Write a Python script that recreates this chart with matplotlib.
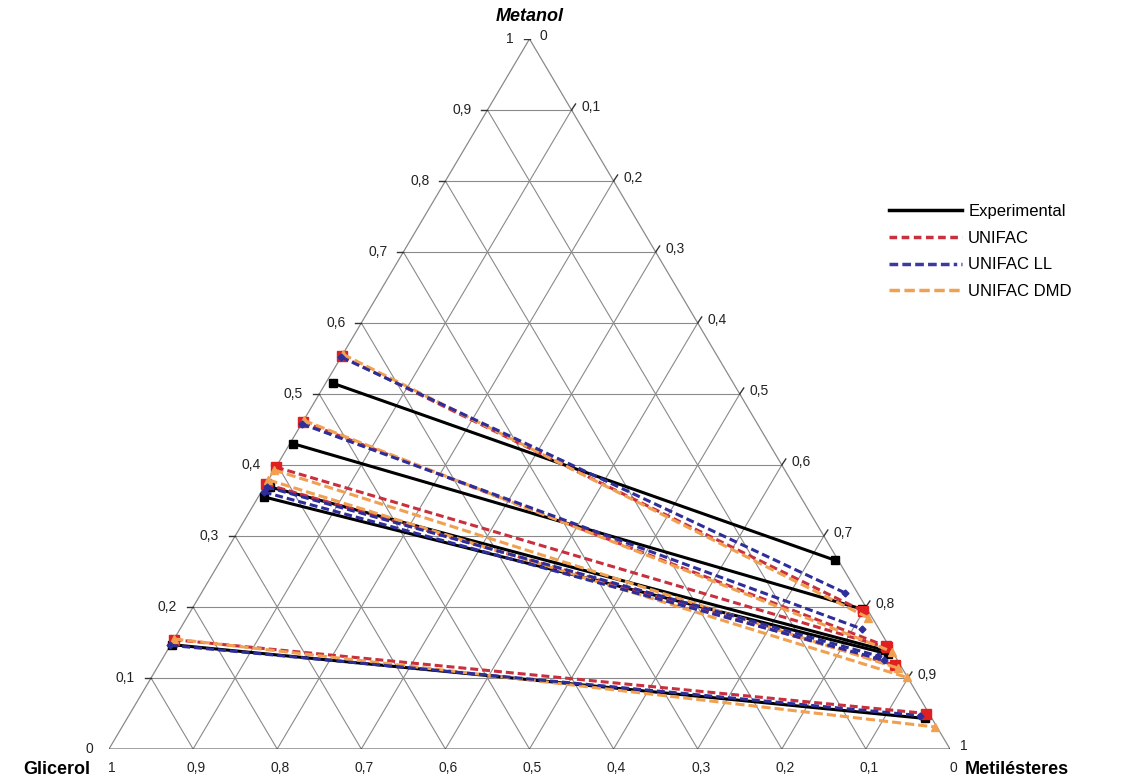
import numpy as np
import matplotlib.pyplot as plt
from matplotlib.lines import Line2D

plt.rcParams['font.family'] = ['Liberation Sans', 'DejaVu Sans']

# tie lines, each end given as (metanol, metilesteres) mass fraction
# glycerol-rich end (left) and ester-rich end (right)
exp_left_m = [0.515, 0.430, 0.369, 0.355, 0.147]
exp_left_e = [0.009, 0.004, 0.007, 0.007, 0.001]
exp_right_m = [0.266, 0.197, 0.139, 0.134, 0.043]
exp_right_e = [0.730, 0.797, 0.853, 0.859, 0.949]

unifac_left_m = [0.553, 0.461, 0.397, 0.373, 0.154]
unifac_left_e = [0.000, 0.000, 0.000, 0.000, 0.000]
unifac_right_m = [0.194, 0.145, 0.143, 0.118, 0.050]
unifac_right_e = [0.800, 0.851, 0.853, 0.876, 0.947]

ll_left_m = [0.552, 0.458, 0.369, 0.362, 0.146]
ll_left_e = [0.000, 0.000, 0.003, 0.003, 0.000]
ll_right_m = [0.220, 0.169, 0.131, 0.125, 0.047]
ll_right_e = [0.765, 0.811, 0.849, 0.859, 0.941]

dmd_left_m = [0.556, 0.463, 0.393, 0.379, 0.155]
dmd_left_e = [0.000, 0.000, 0.000, 0.000, 0.000]
dmd_right_m = [0.185, 0.137, 0.114, 0.101, 0.031]
dmd_right_e = [0.810, 0.863, 0.881, 0.898, 0.967]

ticks = [i / 10 for i in range(11)]


def tern(m, e):
    m = np.asarray(m, dtype=float)
    e = np.asarray(e, dtype=float)
    return e + m / 2, m


def fmt(v):
    if v == 0:
        return "0"
    if v == 1:
        return "1"
    return f"{v:.1f}".replace(".", ",")


fig = plt.figure(figsize=(11.23, 7.83), dpi=100)
ax = fig.add_axes([109 / 1123, 34 / 783, 841 / 1123, 710 / 783])
ax.set_xlim(0, 1)
ax.set_ylim(0, 1)
ax.axis("off")

grid_c = "#8a8a8a"
# grid
for v in ticks[1:-1]:
    x, y = tern([v, v], [0, 1 - v])          # metanol = const
    ax.plot(x, y, color=grid_c, lw=0.8, zorder=1)
    x, y = tern([0, 1 - v], [v, v])          # ester = const
    ax.plot(x, y, color=grid_c, lw=0.8, zorder=1)
    x, y = tern([0, 1 - v], [1 - v, 0])      # glycerol = const
    ax.plot(x, y, color=grid_c, lw=0.8, zorder=1)

# border
x, y = tern([0, 1], [0, 0])
ax.plot(x, y, color=grid_c, lw=0.9, zorder=1)
x, y = tern([0, 1], [1, 0])
ax.plot(x, y, color=grid_c, lw=0.9, zorder=1)
x, y = tern([0, 0], [0, 1])
ax.plot(x, y, color="#9a9a9a", lw=2.0, zorder=1)

# axis ticks and labels
px = 1 / 841
py = 1 / 710
for v in ticks:
    # left: metanol
    x, y = tern(v, 0)
    ax.plot([x - 6 * px, x], [y, y], color="#333333", lw=1, zorder=1)
    ax.annotate(fmt(v), (x, y), xytext=(-16, 0), textcoords="offset pixels",
                ha="right", va="center", fontsize=10, color="#222222")
    # right: metilesteres
    x, y = tern(1 - v, v)
    ax.plot([x, x + 4 * px], [y, y + 6 * py], color="#333333", lw=1, zorder=1)
    ax.annotate(fmt(v), (x, y), xytext=(10, 3), textcoords="offset pixels",
                ha="left", va="center", fontsize=10, color="#222222")
    # bottom: glicerol
    x, y = tern(0, 1 - v)
    ax.plot([x, x + 3 * px], [y, y - 6 * py], color="#333333", lw=1, zorder=1)
    ax.annotate(fmt(v), (x, y), xytext=(3, -19), textcoords="offset pixels",
                ha="center", va="center", fontsize=10, color="#222222")

# component names
x, y = tern(1, 0)
ax.annotate("Metanol", (x, y), xytext=(0, 23), textcoords="offset pixels",
            ha="center", va="center", fontsize=13, fontweight="bold",
            fontstyle="italic")
x, y = tern(0, 0)
ax.annotate("Glicerol", (x, y), xytext=(-19, -21), textcoords="offset pixels",
            ha="right", va="center", fontsize=13, fontweight="bold")
x, y = tern(0, 1)
ax.annotate("Metilésteres", (x, y), xytext=(15, -21), textcoords="offset pixels",
            ha="left", va="center", fontsize=13, fontweight="bold")

series = [
    (exp_left_m, exp_left_e, exp_right_m, exp_right_e,
     dict(color="black", lw=2.2, ls="-", marker="s", ms=6, zorder=3)),
    (unifac_left_m, unifac_left_e, unifac_right_m, unifac_right_e,
     dict(color="#c8303e", lw=2.2, ls=(0, (2.6, 1.3)), marker="s", ms=7,
          mfc="#e02020", mec="#e02020", zorder=4)),
    (dmd_left_m, dmd_left_e, dmd_right_m, dmd_right_e,
     dict(color="#f0a050", lw=2.2, ls=(0, (3, 1.3)), marker="^", ms=6,
          zorder=5)),
    (ll_left_m, ll_left_e, ll_right_m, ll_right_e,
     dict(color="#2e2e9a", lw=2.2, ls=(0, (2.6, 1.3)), marker="D", ms=3.5,
          zorder=6)),
]

for lm, le, rm, re, style in series:
    for i in range(len(lm)):
        x, y = tern([lm[i], rm[i]], [le[i], re[i]])
        ax.plot(x, y, **style)

handles = [
    Line2D([], [], color="black", lw=2.5, ls="-"),
    Line2D([], [], color="#c8303e", lw=2.5, ls=(0, (2.2, 1.3))),
    Line2D([], [], color="#3a3aa0", lw=2.5, ls=(0, (2.5, 1.2, 2.5, 1.2, 2.5, 1.2, 2.5, 1.2, 2.5, 1.2, 1, 1.2, 1, 1.2))),
    Line2D([], [], color="#f0a050", lw=2.5, ls=(0, (3, 1.3))),
]
labels = ["Experimental", "UNIFAC", "UNIFAC LL", "UNIFAC DMD"]
fig.legend(handles, labels, loc="upper left", bbox_to_anchor=(889 / 1123, 1 - 204 / 783),
           frameon=False, fontsize=12, handlelength=4.4, handletextpad=0.35,
           labelspacing=0.7, borderpad=0, borderaxespad=0)

fig.savefig("out.png", dpi=100)
